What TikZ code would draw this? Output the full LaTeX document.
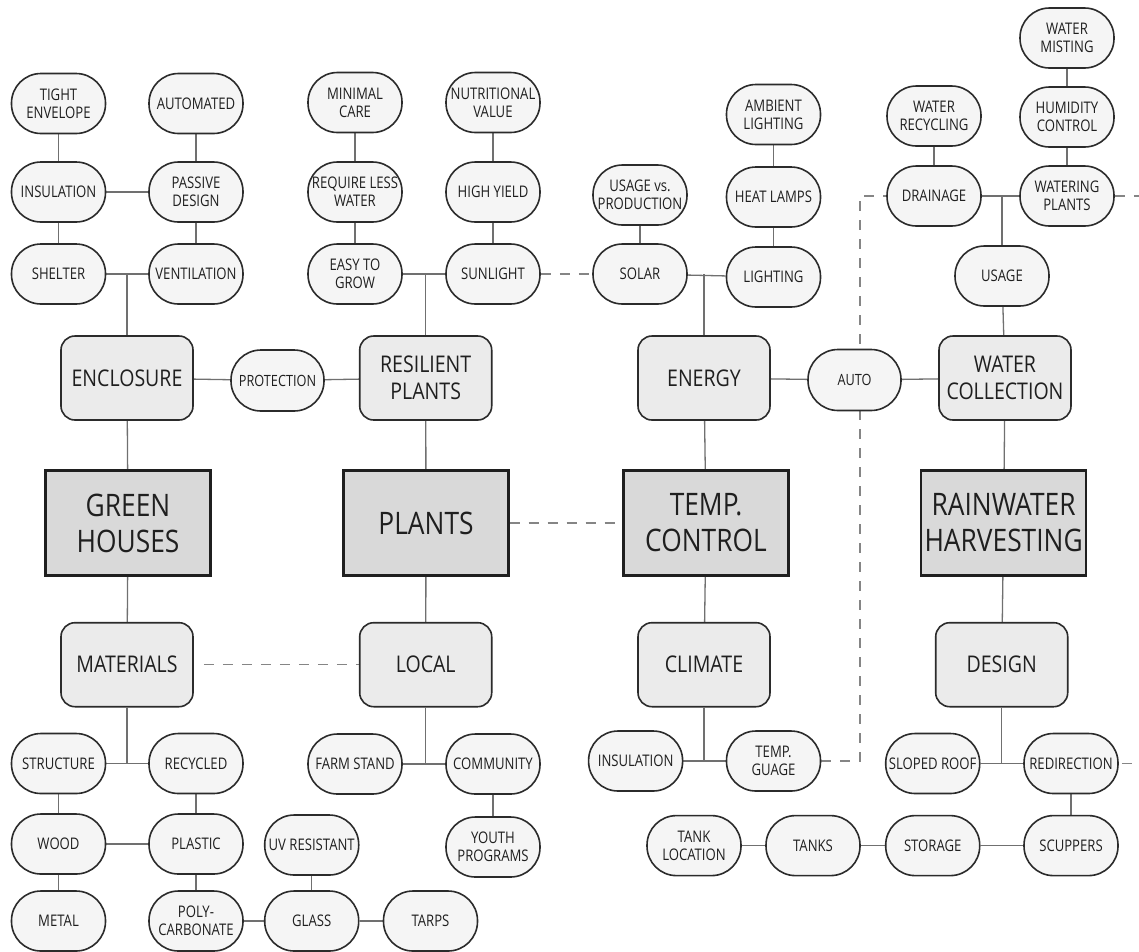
\documentclass[tikz,border=0pt]{standalone}
\usepackage{fontspec}
\setmainfont{Open Sans}[FakeStretch=0.82]
\newfontfamily\boxfont{Open Sans}[FakeStretch=0.85]
\usetikzlibrary{backgrounds}
\definecolor{ink}{HTML}{1F1F1F}
\definecolor{pillline}{HTML}{2B2B2B}
\definecolor{pillfill}{HTML}{F5F5F5}
\definecolor{midfill}{HTML}{EBEBEB}
\definecolor{bigfill}{HTML}{D9D9D9}
\definecolor{wire}{HTML}{707070}
\definecolor{dashwire}{HTML}{858585}
\begin{document}
\begin{tikzpicture}[x=1pt,y=-1pt,
  pill/.style={draw=pillline, line width=1.6pt, fill=pillfill, rounded corners=29.5pt,
    minimum width=94pt, minimum height=60pt, inner sep=0pt, align=center, text=ink,
    font=\fontsize{16}{18}\selectfont},
  smallpill/.style={pill, minimum width=93pt, minimum height=61pt, rounded corners=30pt,
    font=\fontsize{15.5}{18}\selectfont},
  midbox/.style={draw=pillline, line width=1.6pt, fill=midfill, rounded corners=14pt,
    minimum width=132pt, minimum height=84pt, inner sep=0pt, align=center, text=ink,
    font=\boxfont\fontsize{23}{27}\selectfont},
  bigbox/.style={draw=ink, line width=2.4pt, fill=bigfill,
    minimum width=165pt, minimum height=105pt, inner sep=0pt, align=center, text=ink,
    font=\boxfont\fontsize{31}{36}\selectfont},
  link/.style={draw=wire, line width=1.3pt},
  dashlink/.style={draw=dashwire, line width=1.3pt, dash pattern=on 10pt off 9pt}]

\useasboundingbox (0,0) rectangle (1139,951);

% ---------- green houses branch ----------
\node[pill] (tight)   at (58.5,103.5) {TIGHT\\ENVELOPE};
\node[pill] (autom)   at (196,103.5)  {AUTOMATED};
\node[pill] (insA)    at (58.5,192)   {INSULATION};
\node[pill] (passive) at (196,192)    {PASSIVE\\DESIGN};
\node[pill] (shelter) at (58.5,274)   {SHELTER};
\node[pill] (vent)    at (196,274)    {VENTILATION};
\node[midbox] (encl)  at (127,378)    {ENCLOSURE};
\node[smallpill] (prot) at (277.5,380.5) {PROTECTION};
\node[bigbox] (gh)    at (128,523)    {GREEN\\HOUSES};
\node[midbox] (mat)   at (127,664.7)  {MATERIALS};
\node[pill] (struct)  at (58.5,763.5) {STRUCTURE};
\node[pill] (recyc)   at (196,763.5)  {RECYCLED};
\node[pill] (wood)    at (58.5,844)   {WOOD};
\node[pill] (plastic) at (196,844)    {PLASTIC};
\node[pill] (uv)      at (311.7,845)  {UV RESISTANT};
\node[pill] (metal)   at (58.5,921)   {METAL};
\node[pill] (poly)    at (196,921)    {POLY-\\CARBONATE};
\node[pill] (glass)   at (311.7,921)  {GLASS};
\node[pill] (tarps)   at (430.5,921)  {TARPS};

% ---------- plants branch ----------
\node[pill] (mincare) at (355,102.5)  {MINIMAL\\CARE};
\node[pill] (nutri)   at (493,102.5)  {NUTRITIONAL\\VALUE};
\node[pill] (reqless) at (355,192)    {REQUIRE LESS\\WATER};
\node[pill] (highy)   at (493,192)    {HIGH YIELD};
\node[pill] (easy)    at (355,274)    {EASY TO\\GROW};
\node[pill] (sun)     at (493,274)    {SUNLIGHT};
\node[midbox] (resil) at (425.7,378)  {RESILIENT\\PLANTS};
\node[bigbox] (plants) at (426,523)   {PLANTS};
\node[midbox] (local) at (425.7,664.7) {LOCAL};
\node[pill] (farm)    at (355,764)    {FARM STAND};
\node[pill] (comm)    at (493,764)    {COMMUNITY};
\node[pill] (youth)   at (493,847)    {YOUTH\\PROGRAMS};

% ---------- temperature branch ----------
\node[pill] (usevs)   at (640,195)    {USAGE vs.\\PRODUCTION};
\node[pill] (solar)   at (640,274)    {SOLAR};
\node[pill] (ambient) at (773.5,114.5) {AMBIENT\\LIGHTING};
\node[pill] (heat)    at (773.5,197)  {HEAT LAMPS};
\node[pill] (light)   at (773.5,277)  {LIGHTING};
\node[midbox] (energy) at (704,378)   {ENERGY};
\node[smallpill] (autoN) at (854.5,380) {AUTO};
\node[bigbox] (temp)  at (706,523)    {TEMP.\\CONTROL};
\node[midbox] (climate) at (704,664.7) {CLIMATE};
\node[pill] (insB)    at (635.6,761)  {INSULATION};
\node[pill] (gauge)   at (773.5,761)  {TEMP.\\GUAGE};

% ---------- rainwater branch ----------
\node[pill] (wmist)   at (1067,38)    {WATER\\MISTING};
\node[pill] (wrecyc)  at (934,116)    {WATER\\RECYCLING};
\node[pill] (humid)   at (1067,117)   {HUMIDITY\\CONTROL};
\node[pill] (drain)   at (934,196)    {DRAINAGE};
\node[pill] (water)   at (1067,196)   {WATERING\\PLANTS};
\node[pill] (usage)   at (1002,276)   {USAGE};
\node[midbox] (wcoll) at (1005,378)   {WATER\\COLLECTION};
\node[bigbox] (rain)  at (1003.6,523) {RAINWATER\\HARVESTING};
\node[midbox] (design) at (1001.7,664.7) {DESIGN};
\node[pill] (sloped)  at (932.7,763.5) {SLOPED ROOF};
\node[pill] (redir)   at (1071,763.5) {REDIRECTION};
\node[pill] (tankloc) at (694,845.6)  {TANK\\LOCATION};
\node[pill] (tanks)   at (813,845.6)  {TANKS};
\node[pill] (storage) at (932.7,845.6) {STORAGE};
\node[pill] (scup)    at (1071,845.6) {SCUPPERS};

\coordinate (dv) at (860,0);
\coordinate (edgeR) at (1139,0);

\begin{scope}[on background layer]
  \fill[white] (0,0) rectangle (1139,951);

  % green houses
  \draw[link] (tight) -- (insA) -- (shelter);
  \draw[link] (autom) -- (passive) -- (vent);
  \draw[link] (insA) -- (passive);
  \draw[link] (shelter) -- (vent);
  \draw[link] (encl.north) -- (encl.north |- shelter.east);
  \draw[link] (encl) -- (prot) -- (resil);
  \draw[link] (encl) -- (gh) -- (mat);
  \draw[link] (mat.south) -- (mat.south |- struct.east);
  \draw[link] (struct) -- (recyc);
  \draw[link] (struct) -- (wood) -- (metal);
  \draw[link] (recyc) -- (plastic) -- (poly);
  \draw[link] (wood) -- (plastic);
  \draw[link] (poly) -- (glass) -- (tarps);
  \draw[link] (uv) -- (glass);
  \draw[dashlink] (mat.east) ++(10,0) -- (local.west);

  % plants
  \draw[link] (mincare) -- (reqless) -- (easy);
  \draw[link] (nutri) -- (highy) -- (sun);
  \draw[link] (easy) -- (sun);
  \draw[link] (resil.north) -- (resil.north |- easy.east);
  \draw[link] (resil) -- (plants) -- (local);
  \draw[link] (local.south) -- (local.south |- farm.east);
  \draw[link] (farm) -- (comm);
  \draw[link] (comm) -- (youth);
  \draw[dashlink] (sun) -- (solar);
  \draw[dashlink] (plants) -- (temp);

  % temperature control
  \draw[link] (usevs) -- (solar);
  \draw[link] (ambient) -- (heat) -- (light);
  \draw[link] (solar) -- (light);
  \draw[link] (energy.north) -- (energy.north |- solar.east);
  \draw[link] (energy) -- (autoN) -- (wcoll);
  \draw[link] (energy) -- (temp) -- (climate);
  \draw[link] (climate.south) -- (climate.south |- insB.east);
  \draw[link] (insB) -- (gauge);
  \draw[dashlink] (gauge.east) -- (dv |- gauge.east) -- (dv |- drain.west) -- (drain.west);

  % rainwater harvesting
  \draw[link] (wmist) -- (humid) -- (water);
  \draw[link] (wrecyc) -- (drain);
  \draw[link] (drain) -- (water);
  \draw[link] (usage.north) -- (usage.north |- drain.east);
  \draw[link] (usage) -- (wcoll);
  \draw[link] (wcoll) -- (rain) -- (design);
  \draw[link] (design.south) -- (design.south |- sloped.east);
  \draw[link] (sloped) -- (redir);
  \draw[link] (redir) -- (scup);
  \draw[link] (scup) -- (storage) -- (tanks) -- (tankloc);
  \draw[dashlink] (water.east) -- (edgeR |- water.east);
  \draw[dashlink] (redir.east) ++(3,0) -- (edgeR |- redir.east);
\end{scope}
\end{tikzpicture}
\end{document}
